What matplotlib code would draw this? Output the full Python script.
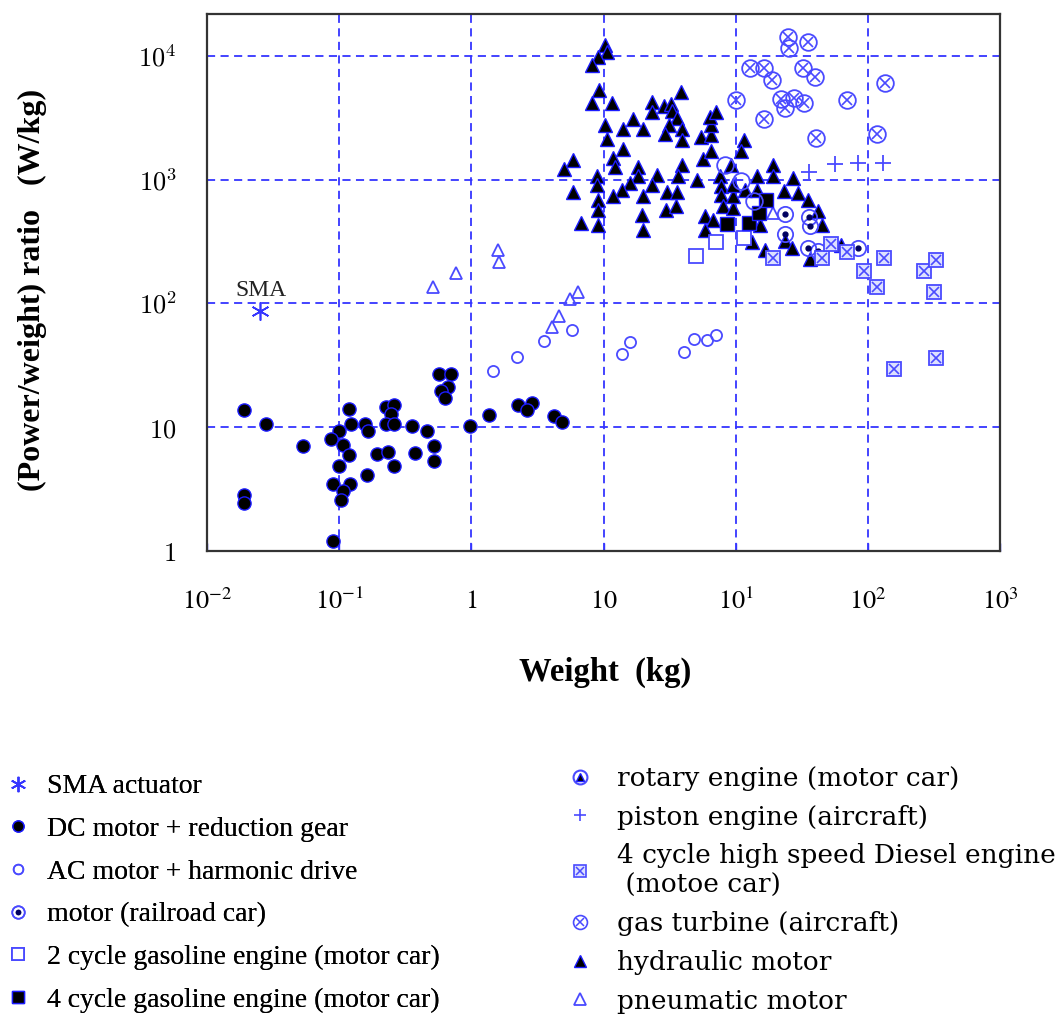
import matplotlib
matplotlib.use("Agg")
import matplotlib.pyplot as plt
from matplotlib.lines import Line2D
from matplotlib.font_manager import FontProperties

# ---- data (weight in kg, power/weight ratio in W/kg) ----
w_sma = [0.025]
p_sma = [87]

w_dc = [0.019, 0.028, 0.053, 0.019, 0.019, 0.090, 0.10, 0.087, 0.106, 0.118,
        0.122, 0.118, 0.10, 0.090, 0.120, 0.106, 0.104, 0.156, 0.164, 0.161,
        0.194, 0.225, 0.261, 0.247, 0.225, 0.261, 0.233, 0.261, 0.356, 0.377,
        0.461, 0.525, 0.525, 0.565, 0.705, 0.667, 0.586, 0.631, 0.98, 1.37,
        2.25, 2.86, 2.65, 4.21, 4.88]
p_dc = [13.7, 10.7, 7.0, 2.85, 2.44, 1.21, 9.4, 8.1, 7.2, 14.0,
        10.7, 6.0, 4.85, 3.5, 3.5, 3.07, 2.59, 10.7, 9.4, 4.1,
        6.1, 14.7, 15.2, 12.8, 10.7, 10.7, 6.3, 4.9, 10.2, 6.2,
        9.4, 7.0, 5.3, 26.7, 26.7, 21.3, 19.5, 17.3, 10.2, 12.6,
        15.2, 15.8, 13.7, 12.4, 11.1]

w_ac = [1.47, 2.21, 3.56, 5.75, 13.8, 15.8, 40.5, 48.0, 60.9, 71.1]
p_ac = [28.2, 36.7, 49.5, 61.1, 38.7, 48.6, 40.8, 51.3, 50.4, 56.0]

w_rail = [237, 356, 368, 237, 350, 422, 843]
p_rail = [526, 497, 420, 361, 282, 267, 282]

w_2c = [49.7, 71, 116]
p_2c = [243, 316, 341]

w_4c = [85.7, 127, 150, 169]
p_4c = [436, 444, 537, 685]

w_rot = [83, 109, 138]
p_rot = [1306, 981, 673]

w_pis = [356, 562, 843, 1312]
p_pis = [1164, 1330, 1355, 1355]

w_dsl = [190, 451, 526, 701, 935, 1334, 1164, 2667, 3273, 3162, 3273, 1580]
p_dsl = [234, 234, 305, 262, 183, 234, 135, 183, 225, 123, 36, 29.7]

w_gt = [100, 129, 163, 187, 163, 249, 254, 350, 321, 401,
        222, 276, 327, 237, 701, 1355, 408, 1164]
p_gt = [4416, 7960, 7960, 6340, 3076, 14090, 11640, 13060, 7960, 6700,
        4500, 4580, 4170, 3790, 4416, 5990, 2183, 2355]

w_hyd = [10.2, 10.7, 9.12, 8.17, 9.29, 8.17, 11.5, 38.5,
         23.4, 23.1, 28.8, 32.4, 33.0, 35.9, 31.4, 29.3, 39.1, 39.1,
         16.7, 14.1, 19.8, 10.2, 10.7, 14.1, 11.9, 12.3,
         5.86, 5.06, 5.86, 8.95, 8.95, 9.12, 9.12, 6.79, 9.12,
         18.2, 18.2, 15.8, 13.8, 11.9, 19.8, 19.4, 19.8,
         25.5, 23.1, 30.3, 35.9, 29.8, 35.3, 39.1, 36.5, 50.6,
         57.0, 65.3, 55.1, 65.3, 65.3, 64.2, 71.1, 116, 109,
         76.0, 77.4, 77.4, 80.1, 58.9, 67.5, 58.9, 95.0, 95.0, 91.8, 95.0,
         118, 145, 145, 190, 190, 153, 133, 166,
         233, 272, 296, 350, 422, 451, 237, 267, 368, 622]
p_hyd = [12330, 10790, 9810, 8430, 5340, 4170, 4170, 5140,
         4250, 3510, 3940, 4090, 3580, 3130, 2740, 2355, 2590, 2100,
         3080, 2590, 2590, 2790, 2140, 1770, 1490, 1260,
         1440, 1210, 797, 1080, 910, 685, 567, 444, 428,
         1260, 1080, 945, 828, 739, 739, 517, 389,
         1100, 910, 797, 797, 567, 612, 1306, 1080, 1000,
         1462, 1702, 2220, 2310, 2740, 3190, 3510, 2100, 1702,
         1080, 893, 753, 612, 507, 470, 389, 589, 739, 1306, 910,
         828, 828, 1080, 1306, 1080, 428, 316, 272,
         812, 1039, 782, 685, 557, 428, 322, 282, 230, 299]

w_pn = [0.515, 0.759, 1.58, 1.61, 4.06, 4.61, 5.55, 6.43, 190]
p_pn = [135, 176, 272, 217, 64.4, 79.6, 108, 123, 537]

x_ticks = [1e-2, 1e-1, 1, 1e1, 1e2, 1e3, 1e4]
x_labels = [r'$10^{-2}$', r'$10^{-1}$', r'$1$', r'$10$', r'$10^{1}$', r'$10^{2}$', r'$10^{3}$']
y_ticks = [1, 1e1, 1e2, 1e3, 1e4]
y_labels = [r'$1$', r'$10$', r'$10^2$', r'$10^3$', r'$10^4$']

BLUE = '#3535ff'
EDGE = '#1c1cff'
LIGHT = '#4a4aff'

fig = plt.figure(figsize=(10.59, 10.14), dpi=100)
ax = fig.add_axes([207/1059, 1-551/1014, 793/1059, 537/1014])
ax.set_xscale('log')
ax.set_yscale('log')
ax.set_xlim(1e-2, 1e4)
ax.set_ylim(1, 2.18e4)

# hydraulic first so that the other symbols sit on top
ax.plot(w_hyd, p_hyd, ls='none', marker='^', ms=10, mfc='black', mec=EDGE, mew=1)
ax.plot(w_dc, p_dc, ls='none', marker='o', ms=9.5, mfc='black', mec=EDGE, mew=1)
ax.plot(w_ac, p_ac, ls='none', marker='o', ms=8, mfc='none', mec=LIGHT, mew=1.3)
ax.plot(w_pn, p_pn, ls='none', marker='^', ms=8.5, mfc='none', mec=LIGHT, mew=1.3)
ax.plot(w_2c, p_2c, ls='none', marker='s', ms=9.5, mfc='white', mec=LIGHT, mew=1.3)
ax.plot(w_4c, p_4c, ls='none', marker='s', ms=9.5, mfc='black', mec=EDGE, mew=1)
ax.plot(w_rail, p_rail, ls='none', marker='o', ms=11, mfc='none', mec=LIGHT, mew=1.3)
ax.plot(w_rail, p_rail, ls='none', marker='o', ms=3.5, mfc='#000060', mec='#000060')
ax.plot(w_rot, p_rot, ls='none', marker='o', ms=12, mfc='none', mec=LIGHT, mew=1.3)
ax.plot(w_pis, p_pis, ls='none', marker='+', ms=11, mec=LIGHT, mew=1.3)
ax.plot(w_dsl, p_dsl, ls='none', marker='s', ms=10, mfc='#dde0ff', mec=LIGHT, mew=1.3)
ax.plot(w_dsl, p_dsl, ls='none', marker='x', ms=7, mec=LIGHT, mew=1.2)
ax.plot(w_gt, p_gt, ls='none', marker='o', ms=12, mfc='none', mec=LIGHT, mew=1.3)
ax.plot(w_gt, p_gt, ls='none', marker='x', ms=6.5, mec=LIGHT, mew=1.2)
ax.plot(w_sma, p_sma, ls='none', marker=(6, 2, 0), ms=13, mec=BLUE, mew=1.2)
ax.text(0.0165, 128, 'SMA', family='Liberation Serif', fontsize=17, color='#222222', va='center')

# axes, grid, ticks
ax.minorticks_off()
ax.grid(True, which='major', color=BLUE, linestyle=(0, (4.5, 3)), linewidth=1.3)
ax.set_axisbelow(True)
for s in ax.spines.values():
    s.set_color('#333333')
    s.set_linewidth(1.6)
ax.set_xticks(x_ticks)
ax.set_xticklabels(x_labels, math_fontfamily='stix', fontsize=19)
ax.set_yticks(y_ticks)
ax.set_yticklabels(y_labels, math_fontfamily='cm', fontsize=19)
ax.tick_params(axis='x', direction='in', length=6, color=BLUE, width=1, pad=27)
ax.tick_params(axis='y', length=0, pad=22)

fig.text(32/1059, 1-290/1014, '(Power/weight) ratio   (W/kg)', rotation=90,
         family='Liberation Serif', fontweight='bold', fontsize=23, ha='center', va='center')
fig.text(605/1059, 1-672/1014, 'Weight  (kg)', family='Liberation Serif',
         fontweight='bold', fontsize=23.5, ha='center', va='center')

# ---- legend ----
def mk(**kw):
    return Line2D([], [], ls='none', **kw)

h_left = [
    mk(marker=(6, 2, 0), ms=11, mec=BLUE, mew=1.2),
    mk(marker='o', ms=8, mfc='black', mec=EDGE),
    mk(marker='o', ms=7, mfc='none', mec=LIGHT, mew=1.2),
    (mk(marker='o', ms=9, mfc='none', mec=LIGHT, mew=1.2), mk(marker='o', ms=3, mfc='#000060', mec='#000060')),
    mk(marker='s', ms=8, mfc='white', mec=LIGHT, mew=1.3),
    mk(marker='s', ms=8, mfc='black', mec=EDGE),
]
l_left = ['SMA actuator', 'DC motor + reduction gear', 'AC motor + harmonic drive',
          'motor (railroad car)', '2 cycle gasoline engine (motor car)',
          '4 cycle gasoline engine (motor car)']

h_right = [
    (mk(marker='o', ms=10, mfc='none', mec=LIGHT, mew=1.5), mk(marker='^', ms=6, mfc='black', mec=EDGE)),
    mk(marker='+', ms=9, mec=LIGHT, mew=1.2),
    (mk(marker='s', ms=8, mfc='#dde0ff', mec=LIGHT, mew=1.2), mk(marker='x', ms=5.5, mec=LIGHT, mew=1.1)),
    (mk(marker='o', ms=10, mfc='none', mec=LIGHT, mew=1.2), mk(marker='x', ms=5.5, mec=LIGHT, mew=1.1)),
    mk(marker='^', ms=9, mfc='black', mec=EDGE),
    mk(marker='^', ms=8, mfc='none', mec=LIGHT, mew=1.3),
]
l_right = ['rotary engine (motor car)', 'piston engine (aircraft)',
           '4 cycle high speed Diesel engine\n (motoe car)', 'gas turbine (aircraft)',
           'hydraulic motor', 'pneumatic motor']

leg1 = fig.legend(h_left, l_left, loc='upper left', bbox_to_anchor=(4/1059, 1-774/1014),
                  frameon=False, prop=FontProperties(family='Liberation Serif', size=20),
                  handlelength=1, handletextpad=0.55, labelspacing=0.62,
                  borderpad=0, borderaxespad=0)
leg2 = fig.legend(h_right, l_right, loc='upper left', bbox_to_anchor=(567/1059, 1-766/1014),
                  frameon=False, prop=FontProperties(family='DejaVu Serif', size=19),
                  handlelength=1, handletextpad=0.89, labelspacing=0.52,
                  borderpad=0, borderaxespad=0)
fig.add_artist(leg1)

fig.savefig('out.png', dpi=100)
